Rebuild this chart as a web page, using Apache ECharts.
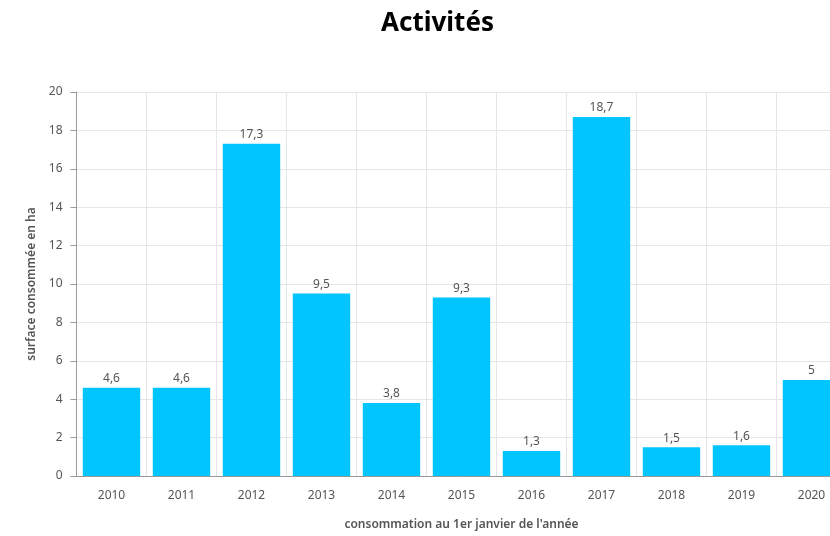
<!DOCTYPE html>
<html>
<head>
<meta charset="utf-8">
<script src="https://cdn.jsdelivr.net/npm/echarts@6/dist/echarts.min.js"></script>
<style>
html,body{margin:0;padding:0;overflow:hidden;background:#fff;}
#wrap{width:830px;height:536px;overflow:hidden;position:relative;}
#c{width:875px;height:536px;position:absolute;left:0;top:0;}
</style>
</head>
<body>
<div id="wrap"><div id="c"></div></div>
<script>
const categories = ['2010','2011','2012','2013','2014','2015','2016','2017','2018','2019','2020'];
const values = [4.6, 4.6, 17.3, 9.5, 3.8, 9.3, 1.3, 18.7, 1.5, 1.6, 5];
const yTicks = {min: 0, max: 20, interval: 2};

const chart = echarts.init(document.getElementById('c'));
chart.setOption({
  animation: false,
  title: {
    text: 'Activités',
    left: 'center',
    top: 6,
    textStyle: {fontFamily: 'Noto Sans', fontWeight: 'bold', fontSize: 26, color: '#000'}
  },
  grid: {left: 76.5, right: 28.5, top: 92, bottom: 57, containLabel: false},
  xAxis: {
    type: 'category',
    data: categories,
    name: "consommation au 1er janvier de l'année",
    nameLocation: 'middle',
    nameGap: 43,
    nameTextStyle: {fontFamily: 'Noto Sans', fontWeight: 600, fontSize: 12, color: '#555'},
    axisLine: {lineStyle: {color: '#999'}},
    axisTick: {alignWithLabel: true, length: 6, lineStyle: {color: '#999'}},
    axisLabel: {fontFamily: 'Noto Sans', fontSize: 12, color: '#555', margin: 14},
    splitLine: {show: true, lineStyle: {color: '#e6e6e6'}}
  },
  yAxis: {
    type: 'value',
    min: yTicks.min, max: yTicks.max, interval: yTicks.interval,
    name: 'surface consommée en ha',
    nameLocation: 'middle',
    nameGap: 36,
    nameTextStyle: {fontFamily: 'Noto Sans', fontWeight: 600, fontSize: 12, color: '#555'},
    axisLine: {show: true, lineStyle: {color: '#999'}},
    axisTick: {show: true, length: 6, lineStyle: {color: '#999'}},
    axisLabel: {fontFamily: 'Noto Sans', fontSize: 12, color: '#555', margin: 14},
    splitLine: {show: true, lineStyle: {color: '#e6e6e6'}}
  },
  series: [{
    type: 'bar',
    data: values,
    barCategoryGap: '18%',
    itemStyle: {color: '#00C5FF'},
    label: {
      show: true,
      position: 'top',
      distance: 3,
      fontFamily: 'Noto Sans',
      fontSize: 12,
      color: '#555',
      formatter: p => String(p.value).replace('.', ',')
    }
  }]
});
</script>
</body>
</html>
